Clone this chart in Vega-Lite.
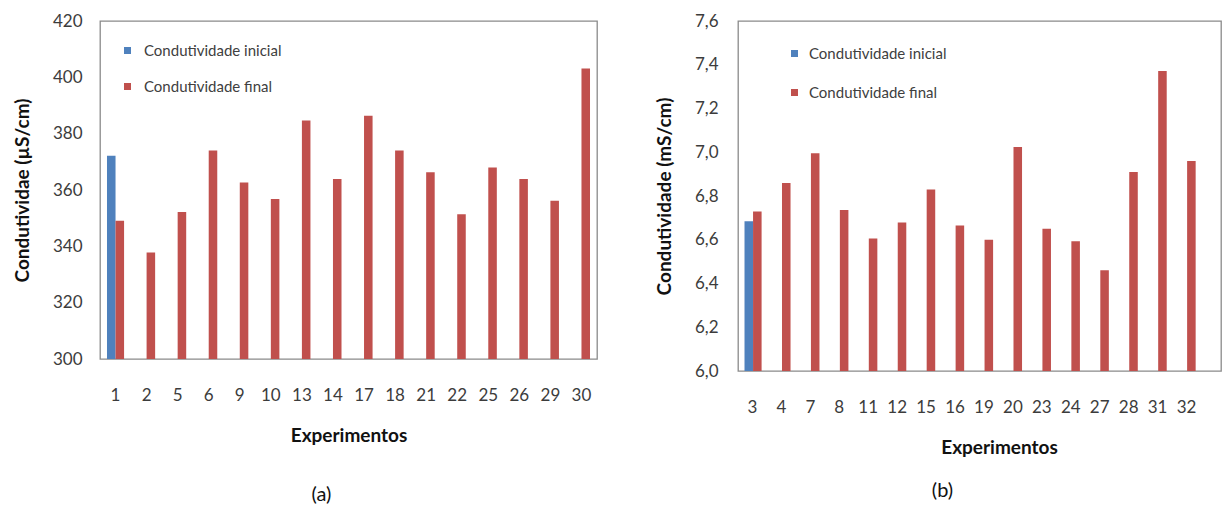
{
  "$schema": "https://vega.github.io/schema/vega-lite/v6.json",
  "background": "white",
  "padding": {"left": 12, "top": 11, "right": 0, "bottom": 0},
  "config": {
    "font": "Lato",
    "view": {"stroke": "#8a8a8a", "strokeWidth": 1.3},
    "axis": {
      "domain": false,
      "ticks": false,
      "grid": false,
      "labelFont": "Lato",
      "labelFontSize": 17,
      "labelColor": "#3c3c3c",
      "titleFont": "Lato",
      "titleFontSize": 19,
      "titleFontWeight": "bold",
      "titleColor": "#111111"
    },
    "axisX": {"labelAngle": 0, "labelPadding": 28, "titlePadding": 23},
    "axisY": {"labelPadding": 18, "titlePadding": 20},
    "legend": {
      "orient": "none",
      "title": null,
      "symbolType": "square",
      "symbolSize": 49,
      "symbolStrokeWidth": 0,
      "labelFont": "Lato",
      "labelFontSize": 15,
      "labelColor": "#404040",
      "labelOffset": 9,
      "rowPadding": 20,
      "padding": 0
    },
    "title": {"font": "Lato", "fontSize": 20, "fontWeight": "normal", "color": "#111111"}
  },
  "datasets": {
    "a": [
      {"exp": "1", "serie": "Condutividade inicial", "v": 372.2},
      {"exp": "1", "serie": "Condutividade final", "v": 349.1},
      {"exp": "2", "serie": "Condutividade final", "v": 337.8},
      {"exp": "5", "serie": "Condutividade final", "v": 352.2},
      {"exp": "6", "serie": "Condutividade final", "v": 374.0},
      {"exp": "9", "serie": "Condutividade final", "v": 362.7},
      {"exp": "10", "serie": "Condutividade final", "v": 356.8},
      {"exp": "13", "serie": "Condutividade final", "v": 384.7},
      {"exp": "14", "serie": "Condutividade final", "v": 363.9},
      {"exp": "17", "serie": "Condutividade final", "v": 386.4},
      {"exp": "18", "serie": "Condutividade final", "v": 374.0},
      {"exp": "21", "serie": "Condutividade final", "v": 366.3},
      {"exp": "22", "serie": "Condutividade final", "v": 351.4},
      {"exp": "25", "serie": "Condutividade final", "v": 368.0},
      {"exp": "26", "serie": "Condutividade final", "v": 363.9},
      {"exp": "29", "serie": "Condutividade final", "v": 356.2},
      {"exp": "30", "serie": "Condutividade final", "v": 403.1}
    ],
    "b": [
      {"exp": "3", "serie": "Condutividade inicial", "v": 6.685},
      {"exp": "3", "serie": "Condutividade final", "v": 6.729},
      {"exp": "4", "serie": "Condutividade final", "v": 6.859},
      {"exp": "7", "serie": "Condutividade final", "v": 6.996},
      {"exp": "8", "serie": "Condutividade final", "v": 6.736},
      {"exp": "11", "serie": "Condutividade final", "v": 6.606},
      {"exp": "12", "serie": "Condutividade final", "v": 6.679},
      {"exp": "15", "serie": "Condutividade final", "v": 6.83},
      {"exp": "16", "serie": "Condutividade final", "v": 6.665},
      {"exp": "19", "serie": "Condutividade final", "v": 6.6},
      {"exp": "20", "serie": "Condutividade final", "v": 7.024},
      {"exp": "23", "serie": "Condutividade final", "v": 6.65},
      {"exp": "24", "serie": "Condutividade final", "v": 6.593},
      {"exp": "27", "serie": "Condutividade final", "v": 6.461},
      {"exp": "28", "serie": "Condutividade final", "v": 6.91},
      {"exp": "31", "serie": "Condutividade final", "v": 7.371},
      {"exp": "32", "serie": "Condutividade final", "v": 6.96}
    ]
  },
  "spacing": 56,
  "resolve": {"scale": {"color": "independent"}, "legend": {"color": "independent"}},
  "hconcat": [
    {
      "width": 497,
      "height": 338,
      "data": {"name": "a"},
      "title": {"text": "(a)", "orient": "bottom", "frame": "group", "dx": -27, "offset": 40},
      "mark": {"type": "bar"},
      "encoding": {
        "x": {
          "field": "exp",
          "type": "ordinal",
          "sort": null,
          "scale": {"paddingInner": 0.45, "paddingOuter": 0.225},
          "axis": {"title": "Experimentos"}
        },
        "xOffset": {
          "field": "serie",
          "type": "nominal",
          "scale": {"domain": ["Condutividade inicial", "Condutividade final"]}
        },
        "y": {
          "field": "v",
          "type": "quantitative",
          "scale": {"domain": [300, 420], "nice": false, "zero": false},
          "axis": {"values": [300, 320, 340, 360, 380, 400, 420], "title": "Condutividae (µS/cm)"}
        },
        "y2": {"datum": 300},
        "color": {
          "field": "serie",
          "type": "nominal",
          "scale": {"domain": ["Condutividade inicial", "Condutividade final"], "range": ["#4F81BD", "#C0504D"]},
          "legend": {"legendX": 20, "legendY": 22}
        }
      }
    },
    {
      "width": 483,
      "height": 350,
      "data": {"name": "b"},
      "title": {"text": "(b)", "orient": "bottom", "frame": "group", "dx": -37, "offset": 24},
      "mark": {"type": "bar"},
      "encoding": {
        "x": {
          "field": "exp",
          "type": "ordinal",
          "sort": null,
          "scale": {"paddingInner": 0.45, "paddingOuter": 0.225, "range": [0, 463]},
          "axis": {"title": "Experimentos", "titleX": 261}
        },
        "xOffset": {
          "field": "serie",
          "type": "nominal",
          "scale": {"domain": ["Condutividade inicial", "Condutividade final"]}
        },
        "y": {
          "field": "v",
          "type": "quantitative",
          "scale": {"domain": [6.0, 7.6], "nice": false, "zero": false},
          "axis": {
            "values": [6.0, 6.2, 6.4, 6.6, 6.8, 7.0, 7.2, 7.4, 7.6],
            "labelExpr": "replace(format(datum.value, '.1f'), '.', ',')",
            "labelPadding": 20,
            "title": "Condutividade (mS/cm)"
          }
        },
        "y2": {"datum": 6.0},
        "color": {
          "field": "serie",
          "type": "nominal",
          "scale": {"domain": ["Condutividade inicial", "Condutividade final"], "range": ["#4F81BD", "#C0504D"]},
          "legend": {"legendX": 49, "legendY": 25, "rowPadding": 23, "labelOffset": 7}
        }
      }
    }
  ]
}
